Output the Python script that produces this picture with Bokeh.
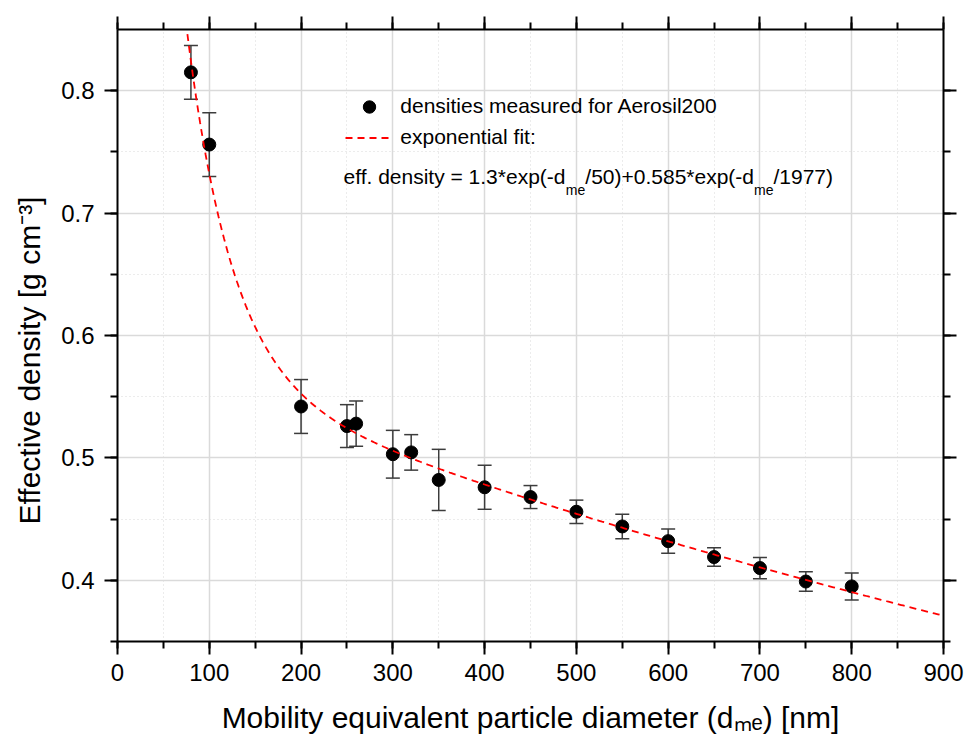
import math
import numpy as np
from bokeh.plotting import figure
from bokeh.models import (Range1d, SingleIntervalTicker, LinearAxis, ColumnDataSource,
                          Whisker, TeeHead, Label, Legend, LegendItem, CustomJSTickFormatter)
from bokeh.embed import file_html
from bokeh.resources import INLINE

# ---------------- data ----------------
diameter_nm = [80, 100, 200, 250, 260, 300, 320, 350, 400, 450, 500, 550, 600, 650, 700, 750, 800]
density = [0.815, 0.756, 0.542, 0.526, 0.528, 0.503, 0.5045, 0.482, 0.476, 0.468,
           0.456, 0.444, 0.432, 0.419, 0.410, 0.399, 0.395]
density_err = [0.022, 0.026, 0.022, 0.0175, 0.0185, 0.0195, 0.0145, 0.025, 0.018, 0.0094,
               0.0095, 0.010, 0.010, 0.0075, 0.0087, 0.008, 0.011]

# fit parameters as printed in the chart legend
fit_a1, fit_t1, fit_a2, fit_t2 = 1.3, 50.0, 0.585, 1977.0

legend_points = "densities measured for Aerosil200"
legend_fit = "exponential fit:"
x_label = "Mobility equivalent particle diameter (d\u2098\u2091) [nm]"
y_label = "Effective density [g cm\u207b\u00b3]" + "\u00a0" * 6

FONT = "Liberation Sans"

# Arial / Liberation Sans advance widths (per 1000 em)
AW = {' ': 278, '(': 333, ')': 333, '*': 389, '+': 584, '-': 333, '.': 278, '/': 278,
      ':': 278, '=': 584, '[': 278, ']': 278, 'A': 667, 'E': 667, 'M': 833,
      'a': 556, 'b': 556, 'c': 500, 'd': 556, 'e': 556, 'f': 278, 'g': 556, 'h': 556,
      'i': 222, 'j': 222, 'k': 500, 'l': 222, 'm': 833, 'n': 556, 'o': 556, 'p': 556,
      'q': 556, 'r': 333, 's': 500, 't': 278, 'u': 556, 'v': 500, 'w': 722, 'x': 500,
      'y': 500, 'z': 500}


def tw(s, fs):
    return sum(AW.get(c, 556) for c in s) * fs / 1000.0


# ---------------- figure ----------------
p = figure(width=965, height=738, x_range=Range1d(0, 900), y_range=Range1d(0.35, 0.85),
           output_backend="svg", toolbar_location=None,
           min_border_left=117, min_border_right=22, min_border_top=29, min_border_bottom=97)
p.outline_line_color = None
p.background_fill_color = "white"

xt = SingleIntervalTicker(interval=100, num_minor_ticks=2)
yt = SingleIntervalTicker(interval=0.1, num_minor_ticks=2)


def style_axis(ax, labels=True):
    ax.axis_line_width = 2
    ax.axis_line_color = "black"
    ax.major_tick_line_width = 2
    ax.minor_tick_line_width = 2
    ax.major_tick_line_color = "black"
    ax.minor_tick_line_color = "black"
    ax.major_tick_in = 0
    ax.major_tick_out = 13
    ax.minor_tick_in = 0
    ax.minor_tick_out = 7
    if labels:
        ax.major_label_text_font = FONT
        ax.major_label_text_font_size = "24px"
        ax.major_label_text_color = "black"
        ax.axis_label_text_font = FONT
        ax.axis_label_text_font_size = "30px"
        ax.axis_label_text_font_style = "normal"
        ax.axis_label_text_color = "black"
    else:
        ax.major_label_text_font_size = "0px"
        ax.major_label_standoff = 0
        ax.formatter = CustomJSTickFormatter(code="return ''")


p.xaxis.ticker = xt
p.yaxis.ticker = yt
style_axis(p.xaxis[0])
style_axis(p.yaxis[0])
p.xaxis.major_label_standoff = 9
p.yaxis.major_label_standoff = 10
p.xaxis.axis_label = x_label
p.yaxis.axis_label = y_label
p.xaxis.axis_label_standoff = 17
p.yaxis.axis_label_standoff = 12

top_ax = LinearAxis(ticker=xt)
style_axis(top_ax, labels=False)
p.add_layout(top_ax, "above")
right_ax = LinearAxis(ticker=yt)
style_axis(right_ax, labels=False)
p.add_layout(right_ax, "right")

for g in (p.xgrid[0], p.ygrid[0]):
    g.grid_line_color = "#dadada"
    g.grid_line_width = 1.5
    g.minor_grid_line_color = "#d8d8d8"
    g.minor_grid_line_dash = "1 3"
    g.minor_grid_line_width = 1
p.xgrid.ticker = xt
p.ygrid.ticker = yt

# ---------------- data glyphs ----------------
src = ColumnDataSource(dict(
    x=diameter_nm, y=density,
    upper=[v + e for v, e in zip(density, density_err)],
    lower=[v - e for v, e in zip(density, density_err)]))

wh = Whisker(source=src, base="x", upper="upper", lower="lower", dimension="height",
             line_color="#3c3c3c", line_width=1.5,
             upper_head=TeeHead(size=14, line_color="#3c3c3c", line_width=1.5),
             lower_head=TeeHead(size=14, line_color="#3c3c3c", line_width=1.5))
p.add_layout(wh)

r_pts = p.scatter("x", "y", source=src, size=13, color="black")

fit_x = np.arange(70, 901, 2.0)
fit_y = fit_a1 * np.exp(-fit_x / fit_t1) + fit_a2 * np.exp(-fit_x / fit_t2)
r_fit = p.line(fit_x, fit_y, line_color="#ff0000", line_dash="7 5", line_width=1.8)

legend = Legend(items=[LegendItem(label=legend_points, renderers=[r_pts]),
                       LegendItem(label=legend_fit, renderers=[r_fit])],
                location=(228.3, 488.2), margin=0, padding=0, spacing=0,
                glyph_width=48, glyph_height=31, label_height=31, label_standoff=7,
                border_line_color=None, background_fill_alpha=0,
                label_text_font=FONT, label_text_font_size="21px", label_text_color="black")
p.add_layout(legend)


# ---------------- equation text with subscripts ----------------
def rich(pieces, ax, ay, x0, y0):
    cum = 0.0
    for text, fs, dy in pieces:
        lab = Label(x=ax, y=ay, x_offset=x0 + cum, y_offset=y0 + dy,
                    text=text, text_font=FONT, text_font_size=f"{fs}px",
                    text_align="left", text_baseline="alphabetic", text_color="black")
        p.add_layout(lab)
        cum += tw(text, fs)


eq_pieces = [("eff. density = 1.3*exp(-d", 21, 0), ("me", 14, -13), ("/50)+0.585*exp(-d", 21, 0),
             ("me", 14, -13), ("/1977)", 21, 0)]
rich(eq_pieces, 0, 0.85, 226, -147.4)

open("out.html", "w").write(file_html(p, INLINE))
